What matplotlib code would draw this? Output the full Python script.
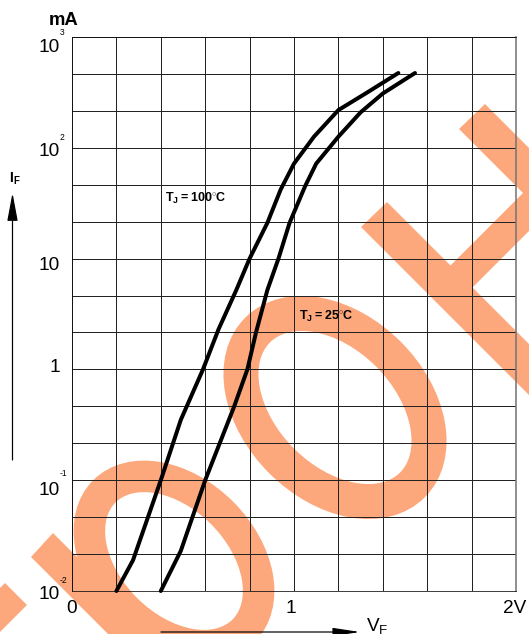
import numpy as np
import matplotlib.pyplot as plt
from matplotlib.patches import Polygon, Ellipse
from matplotlib.transforms import Affine2D
from matplotlib.ticker import NullLocator

plt.rcParams['font.family'] = ['Liberation Sans', 'DejaVu Sans']
plt.rcParams['mathtext.fontset'] = 'custom'
plt.rcParams['mathtext.rm'] = 'Liberation Sans'
plt.rcParams['mathtext.bf'] = 'Liberation Sans:bold'

# forward voltage (V) vs forward current (mA)
vf_100 = [0.20, 0.275, 0.40, 0.49, 0.59, 0.66, 0.74, 0.80, 0.88, 0.94, 1.00, 1.09, 1.20, 1.33, 1.47]
if_100 = [0.01, 0.019, 0.1, 0.35, 1.0, 2.3, 5.2, 10, 21, 42, 72, 126, 219, 316, 473]
vf_25 = [0.40, 0.49, 0.60, 0.73, 0.79, 0.83, 0.88, 0.93, 0.98, 1.05, 1.10, 1.20, 1.30, 1.40, 1.545]
if_25 = [0.01, 0.023, 0.1, 0.46, 1.0, 2.2, 5.2, 10, 21, 45, 72, 126, 209, 309, 473]

y_tick_vals = [1e3, 1e2, 10, 1, 1e-1, 1e-2]
y_tick_base = ['10', '10', '10', '1', '10', '10']
y_tick_exp = ['3', '2', '', '', '-1', '-2']
x_tick_vals = [0, 1, 2]
x_tick_text = ['0', '1', '2V']

W, H = 529, 634
fig = plt.figure(figsize=(W / 72, H / 72), dpi=72)
ax = fig.add_axes([72 / W, 43 / H, 444 / W, 554 / H])
ax.set_facecolor('none')

ax.set_xlim(0, 2)
ax.set_yscale('log')
ax.set_ylim(1e-2, 1e3)
ax.set_xticks(np.arange(0, 2.01, 0.2))
ax.set_yticks(10 ** (np.arange(16) / 3 - 2))
ax.yaxis.set_minor_locator(NullLocator())
ax.tick_params(length=0, labelleft=False, labelbottom=False)
ax.grid(color='#222222', lw=1)
ax.set_axisbelow(True)
for s in ['left', 'bottom', 'top']:
    ax.spines[s].set_color('#111111')
ax.spines['right'].set_color('#777777')
ax.spines['right'].set_linewidth(1.6)

ax.plot(vf_100, if_100, color='black', lw=4, solid_capstyle='round', clip_on=False, zorder=3)
ax.plot(vf_25, if_25, color='black', lw=4, solid_capstyle='round', clip_on=False, zorder=3)

# y tick labels ("10" plus a small exponent); shifts in pixels, positive = down
base_dy = [8, 1.5, 4.5, -4, 7.5, 1]
exp_dy = [-5.5, -10.5, 0, 0, -7.5, -11.5]
for v, b, e, dy, edy in zip(y_tick_vals, y_tick_base, y_tick_exp, base_dy, exp_dy):
    ax.annotate(b, xy=(0, v), xycoords=('axes fraction', 'data'),
                xytext=(-12, -dy - 0.358 * 19), textcoords='offset points',
                ha='right', va='baseline', fontsize=19)
    if e:
        ax.annotate(e, xy=(0, v), xycoords=('axes fraction', 'data'),
                    xytext=(-12.5, -edy - 0.358 * 8.5), textcoords='offset points',
                    ha='left', va='baseline', fontsize=8.5)

x_dx = [0, -3, -1]
for v, t, dx in zip(x_tick_vals, x_tick_text, x_dx):
    ax.annotate(t, xy=(v, 0), xycoords=('data', 'axes fraction'),
                xytext=(dx, -22), textcoords='offset points',
                ha='center', va='baseline', fontsize=19)

def fpos(x, y):
    return x / W, 1 - y / H

fig.text(*fpos(64, 25), 'mA', fontsize=18.5, fontweight='bold', ha='center', va='baseline')
fig.text(*fpos(9, 183), r'$\mathbf{I_F}$', fontsize=14, ha='left', va='baseline')
fig.text(*fpos(366, 631), r'$\mathrm{V_F}$', fontsize=19, ha='left', va='baseline')
fig.text(*fpos(165, 202), r'$\mathbf{T_J{=}100^{\circ}C}$', fontsize=12.5, ha='left', va='baseline')
fig.text(*fpos(299, 320), r'$\mathbf{T_J{=}25^{\circ}C}$', fontsize=12.5, ha='left', va='baseline')

# axis arrows
ax.annotate('', xy=(12.5, H - 193), xytext=(12.5, H - 460), xycoords='figure pixels',
            arrowprops=dict(arrowstyle='-|>,head_length=2.4,head_width=0.45', mutation_scale=10,
                            lw=1.2, color='black', shrinkA=0, shrinkB=0))
ax.annotate('', xy=(360, H - 632), xytext=(161, H - 632), xycoords='figure pixels',
            arrowprops=dict(arrowstyle='-|>,head_length=2.3,head_width=0.35', mutation_scale=10,
                            lw=1.2, color='black', shrinkA=0, shrinkB=0))

# orange watermark behind the grid
px = Affine2D().scale(1 / W, -1 / H).translate(0, 1) + fig.transFigure
orange = '#fda87c'
wm = [
    Ellipse((335, 407.5), 219, 151, angle=45, fill=False, lw=35, ec=orange),
    Ellipse((174, 561), 197, 136, angle=45, fill=False, lw=31.5, ec=orange),
    Polygon([(361, 227), (387, 202), (600, 415), (574, 440)], color=orange, lw=0),
    Polygon([(459, 129), (485, 104), (570.5, 189.5), (459.75, 300.25), (437.75, 278.25), (523, 193)],
            color=orange, lw=0),
    Polygon([(31, 557), (53, 533), (173, 653), (151, 677)], color=orange, lw=0),
    Polygon([(5, 583), (27, 605), (-53, 685), (-75, 663)], color=orange, lw=0),
]
for p in wm:
    p.set_transform(px)
    p.set_clip_on(False)
    p.set_zorder(0.2)
    ax.add_patch(p)

fig.savefig('out.png', dpi=72)
